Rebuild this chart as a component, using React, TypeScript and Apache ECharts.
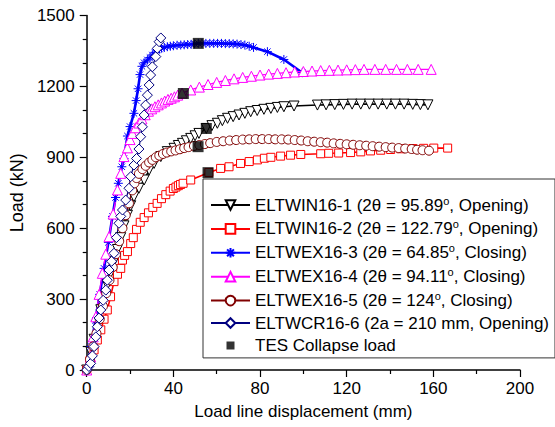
import React, { useEffect, useRef } from "react";
import * as echarts from "echarts";

const seriesNames = [
  "ELTWIN16-1 (2θ = 95.89°, Opening)",
  "ELTWIN16-2 (2θ = 122.79°, Opening)",
  "ELTWEX16-3 (2θ = 64.85°, Closing)",
  "ELTWEX16-4 (2θ = 94.11°, Closing)",
  "ELTWEX16-5 (2θ = 124°, Closing)",
  "ELTWCR16-6 (2a = 210 mm, Opening)",
  "TES Collapse load",
];

const eltwin16_1: [number, number][] = [
  [0, 0], [2, 75], [3.4, 130], [4.9, 197], [6.5, 255], [8, 310], [9.5, 360], [11, 410], [12.6, 460],
  [14.2, 510], [15.7, 560], [17.2, 610], [18.8, 655], [20.3, 695], [21.8, 733], [24.1, 769], [26.5, 804],
  [28.8, 846], [31.1, 874], [34.2, 903], [37.2, 924], [40.3, 938], [42.3, 950], [44.2, 959], [46, 970],
  [48, 980], [50, 991], [51.8, 1001], [55.2, 1022], [57.8, 1034], [60.3, 1044], [62.6, 1055], [65, 1065],
  [67.6, 1072], [70.3, 1079], [73, 1086], [75.7, 1093], [78.7, 1098], [81.8, 1103], [85, 1107], [88, 1111],
  [91, 1114], [95.7, 1117], [106.5, 1121], [110.5, 1122], [114.5, 1123], [118.5, 1124], [122.5, 1125],
  [126.5, 1125], [130.5, 1125], [134.5, 1125], [138.5, 1125], [142.5, 1125], [146.5, 1125], [150.5, 1124],
  [154, 1123], [157.5, 1122],
];

const eltwin16_2: [number, number][] = [
  [0, 0], [1.5, 40], [3.4, 85], [4.9, 127], [6.5, 170], [8, 215], [9.5, 254], [11, 310], [12.6, 374],
  [14.2, 405], [15.7, 430], [16.5, 465], [17.5, 485], [18.8, 501], [20.3, 535], [21.5, 560], [23, 595],
  [24.7, 625], [26.5, 645], [28.5, 665], [30.5, 688], [32.5, 705], [34.5, 725], [36.5, 742], [38.5, 757],
  [40, 768], [41.2, 774], [42.3, 780], [43.3, 785], [44.5, 790], [48, 804], [56.4, 836], [61.8, 853],
  [65.7, 860], [71, 874], [75, 882], [78.8, 889], [82, 896], [85, 900], [89.5, 905], [94.1, 909],
  [98.8, 912], [108, 915], [111.7, 917], [116.3, 918], [121.8, 920], [126.5, 923], [131, 927],
  [135.7, 930], [140.3, 933], [145, 936], [150.5, 937], [155.5, 938], [160.2, 939], [166.6, 939],
];

const eltwex16_3: [number, number][] = [
  [0, 0], [2, 100], [4, 210], [6, 320], [8, 430], [10, 540], [11.9, 650], [13.3, 730], [14.6, 790],
  [16.2, 860], [17.2, 895], [18.8, 990], [20, 1030], [21.8, 1086], [22.8, 1140], [23.7, 1190],
  [24.6, 1250], [25.5, 1285], [26.5, 1300], [28, 1312], [29.2, 1322], [30.3, 1333], [31.5, 1344],
  [32.6, 1354], [33.6, 1358], [34.5, 1362], [35.8, 1365], [37.2, 1368], [38.6, 1370], [40, 1372],
  [41.7, 1374], [43.4, 1375], [45, 1376], [46.6, 1377], [48.2, 1378], [49.8, 1380], [51.5, 1382],
  [53.2, 1382], [55, 1382], [56.8, 1382], [58.6, 1382], [60.4, 1382], [62.2, 1382], [64, 1381],
  [65.8, 1381], [67.6, 1380], [69.4, 1379], [71.2, 1377], [73, 1375], [75, 1370], [77, 1365],
  [83.4, 1347], [91, 1314], [99.5, 1258],
];

const eltwex16_4: [number, number][] = [
  [0, 0], [1.8, 56], [3, 140], [4.2, 225], [5.7, 320], [7.2, 409], [8.8, 490], [10.3, 564], [12.2, 660],
  [14.2, 762], [15.7, 832], [17.2, 903], [18.8, 940], [20, 975], [21.1, 1001], [22.5, 1025], [24.1, 1045],
  [25.5, 1062], [27, 1080], [28.5, 1095], [30, 1105], [31.5, 1114], [33, 1122], [34.5, 1130], [36, 1138],
  [37.5, 1145], [39, 1150], [40.5, 1156], [42, 1163], [44, 1172], [48, 1185], [52, 1197], [56, 1208],
  [60, 1217], [64, 1225], [68, 1232], [72, 1238], [76, 1243], [80, 1248], [84, 1252], [88, 1255],
  [92, 1258], [96, 1261], [100, 1263], [104, 1265], [108, 1267], [112, 1268], [116, 1269], [120, 1270],
  [124, 1271], [128, 1272], [133, 1272], [138, 1272], [143, 1272], [148, 1272], [153, 1272], [159, 1272],
];

const eltwex16_5: [number, number][] = [
  [0, 0], [1.5, 45], [3, 100], [4.5, 155], [6, 215], [7.5, 270], [9, 325], [10.5, 380], [12, 435],
  [13.5, 490], [15, 545], [16.5, 600], [18, 655], [19.5, 705], [21, 760], [22, 790], [23, 812],
  [24.1, 830], [25.7, 850], [27.2, 864], [28.8, 878], [30.3, 889], [31.9, 900], [33.5, 907], [35.2, 914],
  [37, 920], [39, 925], [41, 929], [43, 934], [45, 939], [47, 943], [49.5, 948], [52, 952], [54.5, 956],
  [57, 960], [60, 965], [63, 968], [66, 971], [69, 973], [72, 975], [75, 976], [78, 977], [81, 977],
  [84, 977], [87, 976], [90, 976], [93, 975], [96, 973], [99, 971], [102, 968], [105, 966], [108, 964],
  [111, 962], [114, 959], [117, 957], [120, 955], [123, 953], [126, 951], [129, 949], [132, 947],
  [135, 945], [138, 943], [141, 941], [144, 939], [147, 937], [150, 935], [152.5, 932], [155, 930],
  [158, 928],
];

const eltwcr16_6: [number, number][] = [
  [0, 0], [1, 15], [1.8, 28], [2.6, 60], [3.4, 99], [4.2, 140], [4.9, 183], [5.7, 220], [6.5, 254],
  [7.6, 295], [8.8, 338], [9.5, 380], [10.3, 423], [11.5, 460], [12.6, 494], [13.7, 560], [14.9, 621],
  [15.7, 650], [16.5, 677], [18, 719], [19.5, 769], [20.3, 818], [21.8, 867], [23, 895], [24.1, 935],
  [24.9, 987], [25.7, 1029], [26.5, 1079], [27.2, 1121], [28, 1163], [28.8, 1206], [29.5, 1248],
  [30.3, 1283], [31.9, 1326], [32.6, 1361], [33.4, 1389], [34.2, 1405],
];

const tesCollapse: [number, number][] = [
  [51.5, 1382], [44.6, 1170], [55.2, 1022], [51.4, 945], [56, 835],
];

const xTicks = { min: 0, max: 200, interval: 40 };
const yTicks = { min: 0, max: 1500, interval: 300 };

const FONT = "'Liberation Sans', Arial, sans-serif";
const STAR = "path://M0,-10L0,10M-10,0L10,0M-7.07,-7.07L7.07,7.07M-7.07,7.07L7.07,-7.07";
const SQUARE_ICON = "path://M-6,-6L-6,-6ZM-4,-4L4,-4L4,4L-4,4ZM6,6L6,6Z";

function lineSeries(
  name: string,
  data: [number, number][],
  color: string,
  symbol: string,
  symbolSize: number,
  lineWidth: number,
  rotate = 0,
  markerFill = "#ffffff"
) {
  return {
    type: "line",
    name,
    data,
    symbol,
    symbolSize,
    symbolRotate: rotate,
    symbolKeepAspect: true,
    showAllSymbol: true,
    lineStyle: { color, width: lineWidth },
    itemStyle: { color: markerFill, borderColor: color, borderWidth: 1 },
    emphasis: { disabled: true },
  };
}

export default function App() {
  const ref = useRef<HTMLDivElement>(null);
  useEffect(() => {
    if (!ref.current) return;
    const chart = echarts.init(ref.current, undefined, { renderer: "svg" });
    const axisCommon = {
      axisLine: { show: true, lineStyle: { color: "#000", width: 1.5 } },
      axisTick: { show: true, inside: false, length: 7, lineStyle: { color: "#000", width: 1.2 } },
      minorTick: { show: true, length: 4, lineStyle: { color: "#000", width: 1.2 } },
      splitLine: { show: false },
      axisLabel: { color: "#000", fontSize: 17, fontFamily: FONT, formatter: (v: number) => String(v) },
      nameTextStyle: { color: "#000", fontSize: 17, fontFamily: FONT },
    };
    chart.setOption({
      animation: false,
      backgroundColor: "#fff",
      grid: { left: 86, top: 15.5, right: 35, bottom: 57, containLabel: false },
      xAxis: {
        type: "value",
        ...xTicks,
        ...axisCommon,
        minorTick: { ...axisCommon.minorTick, splitNumber: 2 },
        axisLabel: { ...axisCommon.axisLabel, margin: 10 },
        name: "Load line displacement (mm)",
        nameLocation: "middle",
        nameGap: 33,
      },
      yAxis: {
        type: "value",
        ...yTicks,
        ...axisCommon,
        minorTick: { ...axisCommon.minorTick, splitNumber: 3 },
        axisLabel: { ...axisCommon.axisLabel, margin: 12 },
        name: "Load (kN)",
        nameLocation: "middle",
        nameGap: 42,
        nameTextStyle: { ...axisCommon.nameTextStyle, fontSize: 18 },
      },
      legend: {
        orient: "vertical",
        left: 203,
        top: 179,
        padding: [16, 6, 4, 7],
        itemWidth: 39,
        itemHeight: 12,
        itemGap: 5.4,
        borderColor: "#333",
        borderWidth: 1,
        backgroundColor: "#fff",
        data: seriesNames.map((n, i) =>
          i === 6 ? { name: n, icon: SQUARE_ICON } : { name: n }
        ),
        formatter: (name: string) => {
          const idx = name.indexOf("°");
          if (idx < 0) return "{n|" + name + "}";
          return "{n|" + name.slice(0, idx) + "}{s|o}{n|" + name.slice(idx + 1) + "}";
        },
        textStyle: {
          color: "#000",
          fontFamily: FONT,
          fontSize: 17,
          rich: {
            n: { fontSize: 17, lineHeight: 20, fontFamily: FONT, color: "#000" },
            s: { fontSize: 11, lineHeight: 12, verticalAlign: "top", fontFamily: FONT, color: "#000" },
          },
        },
      },
      series: [
        lineSeries(seriesNames[0], eltwin16_1, "#000000", "triangle", 10, 1.6, 180),
        lineSeries(seriesNames[1], eltwin16_2, "#ff0000", "rect", 8, 1.6),
        lineSeries(seriesNames[2], eltwex16_3, "#0000ff", STAR, 9, 2.6, 0, "#0000ff"),
        lineSeries(seriesNames[3], eltwex16_4, "#ff00ff", "triangle", 10, 1.3),
        lineSeries(seriesNames[4], eltwex16_5, "#800000", "circle", 9, 1.5),
        lineSeries(seriesNames[5], eltwcr16_6, "#000080", "diamond", 10, 1.2),
        {
          type: "scatter",
          name: seriesNames[6],
          data: tesCollapse,
          symbol: "rect",
          symbolSize: 11,
          itemStyle: { color: "#000" },
          z: 5,
          emphasis: { disabled: true },
        },
      ],
    });
    return () => chart.dispose();
  }, []);
  return (
    <div
      ref={ref}
      style={{ position: "absolute", left: 0, top: 0, width: 555, height: 427 }}
    />
  );
}
